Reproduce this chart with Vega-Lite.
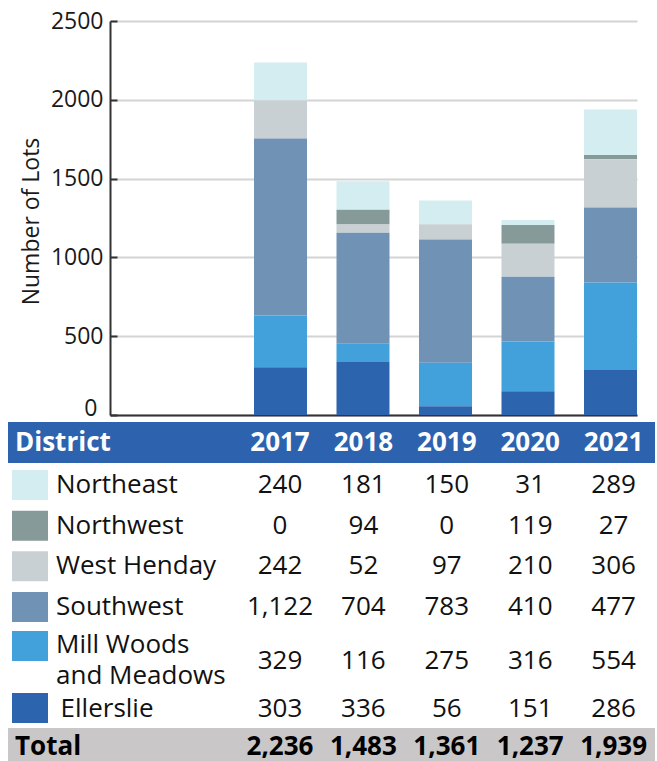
{
  "$schema": "https://vega.github.io/schema/vega-lite/v6.json",
  "background": "white",
  "padding": {"left": 8, "top": 10, "right": 2, "bottom": 0},
  "config": {"font": "Open Sans", "view": {"stroke": null}},
  "datasets": {
    "districts": [
      {"District": "Ellerslie", "Rank": 1},
      {"District": "Mill Woods and Meadows", "Rank": 2},
      {"District": "Southwest", "Rank": 3},
      {"District": "West Henday", "Rank": 4},
      {"District": "Northwest", "Rank": 5},
      {"District": "Northeast", "Rank": 6}
    ],
    "lots": [
      {"District": "Northeast", "Year": "2017", "Lots": 240},
      {"District": "Northeast", "Year": "2018", "Lots": 181},
      {"District": "Northeast", "Year": "2019", "Lots": 150},
      {"District": "Northeast", "Year": "2020", "Lots": 31},
      {"District": "Northeast", "Year": "2021", "Lots": 289},
      {"District": "Northwest", "Year": "2017", "Lots": 0},
      {"District": "Northwest", "Year": "2018", "Lots": 94},
      {"District": "Northwest", "Year": "2019", "Lots": 0},
      {"District": "Northwest", "Year": "2020", "Lots": 119},
      {"District": "Northwest", "Year": "2021", "Lots": 27},
      {"District": "West Henday", "Year": "2017", "Lots": 242},
      {"District": "West Henday", "Year": "2018", "Lots": 52},
      {"District": "West Henday", "Year": "2019", "Lots": 97},
      {"District": "West Henday", "Year": "2020", "Lots": 210},
      {"District": "West Henday", "Year": "2021", "Lots": 306},
      {"District": "Southwest", "Year": "2017", "Lots": 1122},
      {"District": "Southwest", "Year": "2018", "Lots": 704},
      {"District": "Southwest", "Year": "2019", "Lots": 783},
      {"District": "Southwest", "Year": "2020", "Lots": 410},
      {"District": "Southwest", "Year": "2021", "Lots": 477},
      {"District": "Mill Woods and Meadows", "Year": "2017", "Lots": 329},
      {"District": "Mill Woods and Meadows", "Year": "2018", "Lots": 116},
      {"District": "Mill Woods and Meadows", "Year": "2019", "Lots": 275},
      {"District": "Mill Woods and Meadows", "Year": "2020", "Lots": 316},
      {"District": "Mill Woods and Meadows", "Year": "2021", "Lots": 554},
      {"District": "Ellerslie", "Year": "2017", "Lots": 303},
      {"District": "Ellerslie", "Year": "2018", "Lots": 336},
      {"District": "Ellerslie", "Year": "2019", "Lots": 56},
      {"District": "Ellerslie", "Year": "2020", "Lots": 151},
      {"District": "Ellerslie", "Year": "2021", "Lots": 286}
    ]
  },
  "spacing": 7,
  "bounds": "flush",
  "resolve": {"scale": {"x": "independent", "y": "independent", "color": "independent"}},
  "vconcat": [
    {
      "width": 647,
      "height": 394,
      "data": {"name": "lots"},
      "transform": [{"lookup": "District", "from": {"data": {"name": "districts"}, "key": "District", "fields": ["Rank"]}}],
      "mark": {"type": "bar"},
      "encoding": {
        "x": {
          "field": "Year", "type": "nominal",
          "scale": {"type": "band", "domain": ["2017", "2018", "2019", "2020", "2021"], "range": [102, 629], "paddingInner": 0.3576, "paddingOuter": 0.8727, "align": 1},
          "axis": {"labels": false, "ticks": false, "title": null, "grid": false, "domainColor": "#333333", "domainWidth": 2}
        },
        "y": {
          "field": "Lots", "type": "quantitative", "stack": "zero",
          "scale": {"domain": [0, 2500], "nice": false},
          "axis": {
            "orient": "left", "offset": -102,
            "values": [0, 500, 1000, 1500, 2000, 2500], "format": "d",
            "title": "Number of Lots", "titleFontSize": 23, "titleFontWeight": "normal", "titleColor": "#1a1a1a",
            "titleX": -72, "titleY": 200, "titleAngle": 270, "titleBaseline": "alphabetic", "titleAlign": "center",
            "labelFontSize": 23, "labelColor": "#1a1a1a", "labelFlush": false, "labelOverlap": false,
            "labelPadding": {"condition": {"test": "datum.value === 0", "value": 20}, "value": 14},
            "labelBaseline": {"condition": {"test": "datum.value === 0", "value": "alphabetic"}, "value": "middle"},
            "tickSize": -7, "tickWidth": 2, "tickColor": "#333333",
            "domainColor": "#333333", "domainWidth": 2,
            "grid": true, "gridColor": "#d4d4d4", "gridWidth": 2
          }
        },
        "color": {
          "field": "District", "type": "nominal",
          "scale": {"domain": ["Northeast", "Northwest", "West Henday", "Southwest", "Mill Woods and Meadows", "Ellerslie"], "range": ["#d4edf0", "#869a99", "#c8d0d3", "#7092b4", "#42a0da", "#2d64ae"]},
          "legend": null
        },
        "order": {"field": "Rank", "type": "quantitative", "sort": "ascending"}
      }
    },
    {
      "spacing": 0,
      "bounds": "flush",
      "resolve": {"scale": {"x": "independent", "y": "independent", "color": "independent"}},
      "vconcat": [
        {
          "width": 647,
          "height": 41,
          "view": {"fill": "#2d63ae", "stroke": null},
          "data": {"name": "lots"},
          "transform": [{"filter": "datum.District === 'Northeast'"}],
          "layer": [
            {
              "mark": {"type": "text", "align": "center", "baseline": "middle", "fontSize": 26, "fontWeight": "bold", "color": "white"},
              "encoding": {
                "x": {"field": "Year", "type": "nominal", "scale": {"type": "point", "domain": ["District", "2017", "2018", "2019", "2020", "2021"], "range": [188.6, 605.6], "padding": 0}, "axis": null},
                "text": {"field": "Year"}
              }
            },
            {
              "transform": [{"filter": "datum.Year === '2017'"}],
              "mark": {"type": "text", "align": "left", "baseline": "middle", "fontSize": 26, "fontWeight": "bold", "color": "white", "dx": -181.6, "text": "District"},
              "encoding": {
                "x": {"datum": "District", "type": "nominal", "scale": {"type": "point", "domain": ["District", "2017", "2018", "2019", "2020", "2021"], "range": [188.6, 605.6], "padding": 0}, "axis": null}
              }
            }
          ]
        },
        {
          "width": 647,
          "height": 166,
          "data": {"name": "lots"},
          "transform": [{"filter": {"field": "District", "oneOf": ["Northeast", "Northwest", "West Henday", "Southwest"]}}],
          "encoding": {
            "y": {"field": "District", "type": "nominal", "scale": {"type": "point", "domain": ["Northeast", "Northwest", "West Henday", "Southwest"], "padding": 0.54}, "axis": null}
          },
          "layer": [
            {
              "mark": {"type": "text", "align": "center", "baseline": "middle", "fontSize": 26, "color": "#111111"},
              "encoding": {
                "x": {"field": "Year", "type": "nominal", "scale": {"type": "point", "domain": ["District", "2017", "2018", "2019", "2020", "2021"], "range": [188.6, 605.6], "padding": 0}, "axis": null},
                "text": {"field": "Lots", "type": "quantitative", "format": ","}
              }
            },
            {
              "transform": [{"filter": "datum.Year === '2017'"}],
              "mark": {"type": "text", "align": "left", "baseline": "middle", "fontSize": 26, "color": "#111111", "dx": -140.6},
              "encoding": {
                "x": {"datum": "District", "type": "nominal", "scale": {"type": "point", "domain": ["District", "2017", "2018", "2019", "2020", "2021"], "range": [188.6, 605.6], "padding": 0}, "axis": null},
                "text": {"field": "District"}
              }
            },
            {
              "transform": [{"filter": "datum.Year === '2017'"}],
              "mark": {"type": "point", "shape": "M-1.2,-1H1.2V1H-1.2Z", "filled": true, "size": 900, "opacity": 1, "strokeWidth": 0, "xOffset": -166.6},
              "encoding": {
                "x": {"datum": "District", "type": "nominal", "scale": {"type": "point", "domain": ["District", "2017", "2018", "2019", "2020", "2021"], "range": [188.6, 605.6], "padding": 0}, "axis": null},
                "color": {"field": "District", "type": "nominal", "scale": {"domain": ["Northeast", "Northwest", "West Henday", "Southwest", "Mill Woods and Meadows", "Ellerslie"], "range": ["#d4edf0", "#869a99", "#c8d0d3", "#7092b4", "#42a0da", "#2d64ae"]}, "legend": null}
              }
            }
          ]
        },
        {
          "width": 647,
          "height": 63,
          "data": {"name": "lots"},
          "transform": [{"filter": "datum.District === 'Mill Woods and Meadows'"}],
          "layer": [
            {
              "mark": {"type": "text", "align": "center", "baseline": "middle", "fontSize": 26, "color": "#111111"},
              "encoding": {
                "x": {"field": "Year", "type": "nominal", "scale": {"type": "point", "domain": ["District", "2017", "2018", "2019", "2020", "2021"], "range": [188.6, 605.6], "padding": 0}, "axis": null},
                "text": {"field": "Lots", "type": "quantitative", "format": ","}
              }
            },
            {
              "transform": [{"filter": "datum.Year === '2017'"}],
              "mark": {"type": "text", "align": "left", "baseline": "middle", "fontSize": 26, "lineHeight": 31, "color": "#111111", "dx": -140.6, "yOffset": -16, "text": ["Mill Woods", "and Meadows"]},
              "encoding": {
                "x": {"datum": "District", "type": "nominal", "scale": {"type": "point", "domain": ["District", "2017", "2018", "2019", "2020", "2021"], "range": [188.6, 605.6], "padding": 0}, "axis": null}
              }
            },
            {
              "transform": [{"filter": "datum.Year === '2017'"}],
              "mark": {"type": "point", "shape": "M-1.2,-1H1.2V1H-1.2Z", "filled": true, "size": 900, "opacity": 1, "strokeWidth": 0, "xOffset": -166.6, "yOffset": -14.5},
              "encoding": {
                "x": {"datum": "District", "type": "nominal", "scale": {"type": "point", "domain": ["District", "2017", "2018", "2019", "2020", "2021"], "range": [188.6, 605.6], "padding": 0}, "axis": null},
                "color": {"field": "District", "type": "nominal", "scale": {"domain": ["Northeast", "Northwest", "West Henday", "Southwest", "Mill Woods and Meadows", "Ellerslie"], "range": ["#d4edf0", "#869a99", "#c8d0d3", "#7092b4", "#42a0da", "#2d64ae"]}, "legend": null}
              }
            }
          ]
        },
        {
          "width": 647,
          "height": 36,
          "data": {"name": "lots"},
          "transform": [{"filter": "datum.District === 'Ellerslie'"}],
          "layer": [
            {
              "mark": {"type": "text", "align": "center", "baseline": "middle", "fontSize": 26, "color": "#111111", "yOffset": -1.5},
              "encoding": {
                "x": {"field": "Year", "type": "nominal", "scale": {"type": "point", "domain": ["District", "2017", "2018", "2019", "2020", "2021"], "range": [188.6, 605.6], "padding": 0}, "axis": null},
                "text": {"field": "Lots", "type": "quantitative", "format": ","}
              }
            },
            {
              "transform": [{"filter": "datum.Year === '2017'"}],
              "mark": {"type": "text", "align": "left", "baseline": "middle", "fontSize": 26, "color": "#111111", "dx": -136, "yOffset": -1.5},
              "encoding": {
                "x": {"datum": "District", "type": "nominal", "scale": {"type": "point", "domain": ["District", "2017", "2018", "2019", "2020", "2021"], "range": [188.6, 605.6], "padding": 0}, "axis": null},
                "text": {"field": "District"}
              }
            },
            {
              "transform": [{"filter": "datum.Year === '2017'"}],
              "mark": {"type": "point", "shape": "M-1.2,-1H1.2V1H-1.2Z", "filled": true, "size": 900, "opacity": 1, "strokeWidth": 0, "xOffset": -166.6, "yOffset": -2},
              "encoding": {
                "x": {"datum": "District", "type": "nominal", "scale": {"type": "point", "domain": ["District", "2017", "2018", "2019", "2020", "2021"], "range": [188.6, 605.6], "padding": 0}, "axis": null},
                "color": {"field": "District", "type": "nominal", "scale": {"domain": ["Northeast", "Northwest", "West Henday", "Southwest", "Mill Woods and Meadows", "Ellerslie"], "range": ["#d4edf0", "#869a99", "#c8d0d3", "#7092b4", "#42a0da", "#2d64ae"]}, "legend": null}
              }
            }
          ]
        },
        {
          "width": 647,
          "height": 33,
          "view": {"fill": "#c9c7c8", "stroke": null},
          "data": {"name": "lots"},
          "layer": [
            {
              "mark": {"type": "text", "align": "center", "baseline": "middle", "fontSize": 26, "fontWeight": "bold", "color": "#000000", "yOffset": 2},
              "encoding": {
                "x": {"field": "Year", "type": "nominal", "scale": {"type": "point", "domain": ["District", "2017", "2018", "2019", "2020", "2021"], "range": [188.6, 605.6], "padding": 0}, "axis": null},
                "text": {"aggregate": "sum", "field": "Lots", "type": "quantitative", "format": ","}
              }
            },
            {
              "transform": [{"filter": "datum.Year === '2017' && datum.District === 'Northeast'"}],
              "mark": {"type": "text", "align": "left", "baseline": "middle", "fontSize": 26, "fontWeight": "bold", "color": "#000000", "dx": -181.6, "yOffset": 2, "text": "Total"},
              "encoding": {
                "x": {"datum": "District", "type": "nominal", "scale": {"type": "point", "domain": ["District", "2017", "2018", "2019", "2020", "2021"], "range": [188.6, 605.6], "padding": 0}, "axis": null}
              }
            }
          ]
        }
      ]
    }
  ]
}
